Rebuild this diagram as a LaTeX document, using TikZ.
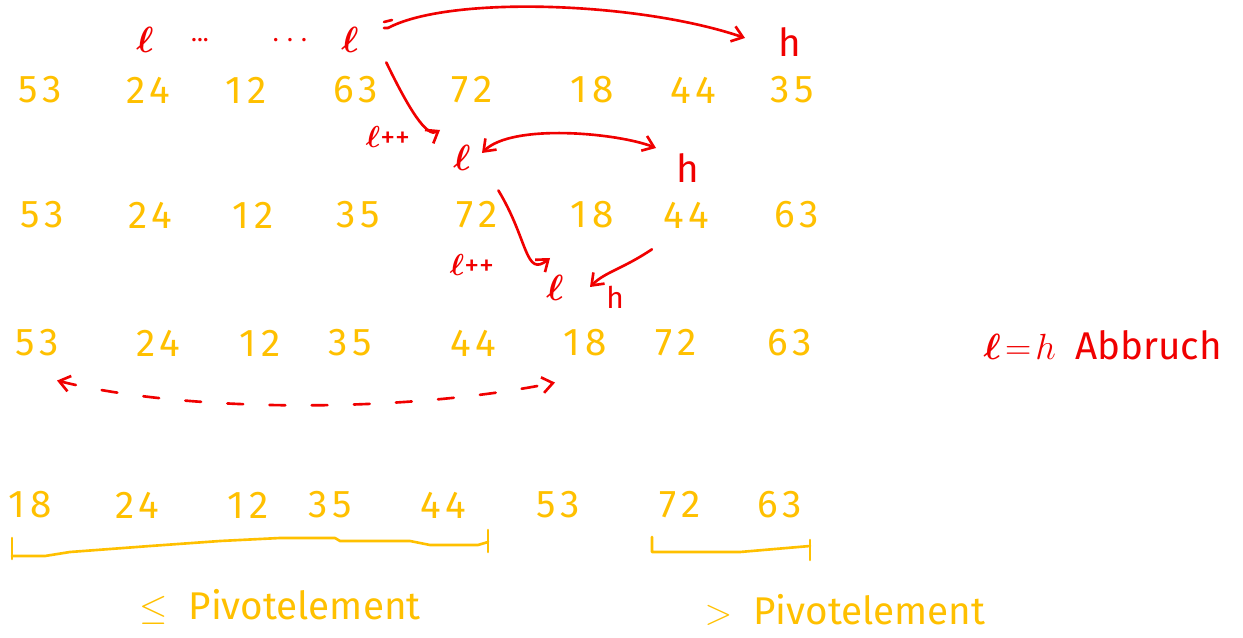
\documentclass[tikz,border=0pt]{standalone}
\usepackage{amsmath}
\usepackage{fontspec}
\setmainfont{Fira Sans}
\usetikzlibrary{arrows.meta,calc}
\definecolor{numc}{HTML}{FFC000}
\definecolor{pen}{HTML}{F00000}
\begin{document}
\begin{tikzpicture}[x=0.02cm,y=-0.02cm,
  num/.style={text=numc,font=\fontsize{22}{26}\selectfont\addfontfeature{LetterSpace=12}},
  lab/.style={text=pen,font=\fontsize{22}{26}\selectfont},
  smalllab/.style={text=pen,font=\fontsize{17}{20}\selectfont},
  arr/.style={draw=pen,line width=1.5pt,line cap=round,-{Straight Barb[length=6pt,width=9pt]}},
  darr/.style={draw=pen,line width=1.5pt,line cap=round,{Straight Barb[length=6pt,width=9pt]}-{Straight Barb[length=6pt,width=9pt]}},
  brace/.style={draw=numc,line width=1.5pt,line cap=round,line join=round},
  ylab/.style={text=numc,font=\fontsize{22}{26}\selectfont}]
\useasboundingbox (0,0) rectangle (1243,638);
% row 1
\foreach \v/\x [count=\i] in {53/40,24/148,12/246,63/356,72/472,18/592,44/693,35/792}
  \node[num] (a\i) at (\x,90) {\v};
% row 2
\foreach \v/\x [count=\i] in {53/42,24/150,12/253,35/358,72/477,18/592,44/686,63/797}
  \node[num] (b\i) at (\x,215) {\v};
% row 3
\foreach \v/\x [count=\i] in {53/37,24/158,12/260,35/350,44/473,18/585,72/676,63/790}
  \node[num] (c\i) at (\x,343) {\v};
% row 4
\foreach \v/\x [count=\i] in {18/30,24/137,12/248,35/330,44/443,53/558,72/680,63/780}
  \node[num] (d\i) at (\x,505) {\v};
% red labels
\node[lab] (l0) at (145,40) {$\boldsymbol{\ell}$};
\node[lab] (dots1) at (200,40) {\fontsize{14}{16}\selectfont\textcolor{pen}{...}};
\node[lab] (dots2) at (290,40) {\fontsize{14}{16}\selectfont\textcolor{pen}{.\,\,.\,\,.}};
\node[lab] (l1) at (350,40) {$\boldsymbol{\ell}$};
\node[lab] (h1) at (790,42) {h};
\node[smalllab] (lpp1) at (388,137) {$\boldsymbol{\ell}$++};
\node[lab] (l2) at (462,158) {$\boldsymbol{\ell}$};
\node[lab] (h2) at (688,168) {h};
\node[smalllab] (lpp2) at (472,265) {$\boldsymbol{\ell}$++};
\node[lab] (l3) at (555,288) {$\boldsymbol{\ell}$};
\node[smalllab] (h3) at (615,297) {h};
\node[lab,anchor=east] (stop) at (1228,345) {$\boldsymbol{\ell}\!=\!h$\enspace Abbruch};
% red arrows
\draw[arr] ($(l1)+(38,-12)$) .. controls ($(l1)+(100,-45)$) and ($(h1)+(-150,-40)$) .. ($(h1)+(-45,-4)$);
\draw[draw=pen,line width=1.5pt,line cap=round] ($(l1)+(34,-18)$) -- ($(l1)+(42,-20)$) ($(l1)+(34,-12)$) -- ($(l1)+(38,-12)$);
\draw[arr] ($(a4.north east)+(2,-8)$) .. controls ($(a4.east)+(25,20)$) and ($(l2)+(-35,-20)$) .. ($(l2)+(-22,-28)$);
\draw[darr] ($(l2)+(20,-5)$) .. controls ($(l2)+(50,-35)$) and ($(h2)+(-70,-35)$) .. ($(h2)+(-32,-20)$);
\draw[arr] ($(b5.north east)+(-5,-5)$) .. controls ($(b5.east)+(25,25)$) and ($(l3)+(-30,-10)$) .. ($(l3)+(-5,-30)$);
\draw[arr] ($(b7.south west)+(-5,15)$) .. controls ($(b7.south west)+(-35,35)$) and ($(h3)+(-10,-25)$) .. ($(h3)+(-25,-10)$);
% dashed arrow
\draw[darr,dash pattern=on 9pt off 15pt] ($(c1.south)+(20,18)$) .. controls ($(c1)+(150,70)$) and ($(c6)+(-180,70)$) .. ($(c6.south)+(-30,20)$);
% brackets
\coordinate (bl1) at (12,538);
\coordinate (br1) at (488,530);
\coordinate (bl2) at (652,537);
\coordinate (br2) at (810,540);
\draw[brace] (bl1) -- ++(0,21);
\draw[brace] ($(bl1)+(0,18)$) -- (45,556) -- (70,552) -- (110,549) -- (150,546) -- (220,541) -- (280,538) -- (335,538) -- (340,541) -- (410,541) -- (430,545) -- (478,545) -- ($(br1)+(0,12)$);
\draw[brace] (br1) -- ++(0,22);
\draw[brace] (bl2) -- ++(0,15) -- (740,552) -- ($(br2)+(0,6)$);
\draw[brace] (br2) -- ++(0,20);
\node[ylab] (le) at (280,607) {$\leq$\; Pivotelement};
\node[ylab] (gt) at (845,610) {$>$\; Pivotelement};
\end{tikzpicture}
\end{document}
